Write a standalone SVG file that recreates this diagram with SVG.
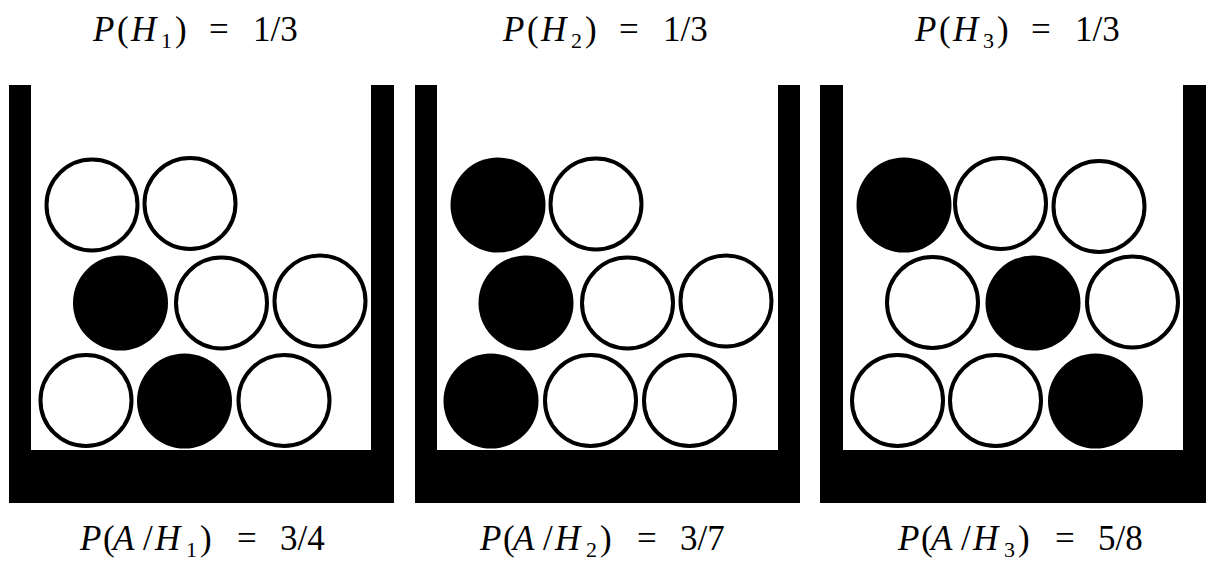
<svg xmlns="http://www.w3.org/2000/svg" width="1206" height="561" viewBox="0 0 1206 561">
  <style>
    .wall { fill: #000; }
    .w { fill: #fff; stroke: #000; stroke-width: 4; }
    .b { fill: #000; }
  </style>
  <rect x="0" y="0" width="1206" height="561" fill="#fff"/>

  <g id="labels-top">
    <text font-family="Liberation Serif" font-size="35" y="41"><tspan font-style="italic" x="93">P</tspan><tspan x="117">(</tspan><tspan font-style="italic" x="131">H</tspan><tspan font-size="22" x="161" y="48">1</tspan><tspan x="175" y="41">)</tspan><tspan x="209">=</tspan><tspan x="253">1/3</tspan></text>
    <text font-family="Liberation Serif" font-size="35" y="41"><tspan font-style="italic" x="503">P</tspan><tspan x="527">(</tspan><tspan font-style="italic" x="541">H</tspan><tspan font-size="22" x="571" y="48">2</tspan><tspan x="585" y="41">)</tspan><tspan x="619">=</tspan><tspan x="663">1/3</tspan></text>
    <text font-family="Liberation Serif" font-size="35" y="41"><tspan font-style="italic" x="915">P</tspan><tspan x="939">(</tspan><tspan font-style="italic" x="953">H</tspan><tspan font-size="22" x="983" y="48">3</tspan><tspan x="997" y="41">)</tspan><tspan x="1031">=</tspan><tspan x="1075">1/3</tspan></text>
  </g>

  <g id="urn1">
    <path class="wall" d="M9,85 H31 V450 H371 V85 H394 V503 H9 Z"/>
    <circle class="w" cx="92" cy="205" r="45.5"/>
    <circle class="w" cx="190" cy="203.5" r="45.5"/>
    <circle class="b" cx="120.5" cy="303" r="47.5"/>
    <circle class="w" cx="221.5" cy="303" r="45.5"/>
    <circle class="w" cx="320" cy="301" r="45.5"/>
    <circle class="w" cx="86" cy="400.5" r="45.5"/>
    <circle class="b" cx="184.5" cy="401" r="47.5"/>
    <circle class="w" cx="284" cy="400.5" r="45.5"/>
  </g>

  <g id="urn2">
    <path class="wall" d="M415,85 H437 V450 H778 V85 H800 V503 H415 Z"/>
    <circle class="b" cx="498" cy="205" r="47.5"/>
    <circle class="w" cx="596" cy="204" r="45.5"/>
    <circle class="b" cx="526" cy="303" r="47.5"/>
    <circle class="w" cx="627.5" cy="303" r="45.5"/>
    <circle class="w" cx="726" cy="301" r="45.5"/>
    <circle class="b" cx="491" cy="401" r="47.5"/>
    <circle class="w" cx="590.5" cy="400.5" r="45.5"/>
    <circle class="w" cx="689.5" cy="400.5" r="45.5"/>
  </g>

  <g id="urn3">
    <path class="wall" d="M820,85 H843 V450 H1183 V85 H1206 V503 H820 Z"/>
    <circle class="b" cx="904" cy="205" r="47.5"/>
    <circle class="w" cx="1000.5" cy="203.5" r="45.5"/>
    <circle class="w" cx="1099" cy="206.5" r="45.5"/>
    <circle class="w" cx="932.5" cy="302.5" r="45.5"/>
    <circle class="b" cx="1033" cy="303" r="47.5"/>
    <circle class="w" cx="1132.5" cy="302" r="45.5"/>
    <circle class="w" cx="897.5" cy="400.5" r="45.5"/>
    <circle class="w" cx="995.5" cy="400.5" r="45.5"/>
    <circle class="b" cx="1095.5" cy="401" r="47.5"/>
  </g>

  <g id="labels-bottom">
    <text font-family="Liberation Serif" font-size="35" y="550"><tspan font-style="italic" x="80">P</tspan><tspan x="103">(</tspan><tspan font-style="italic" x="113">A</tspan><tspan x="143">/</tspan><tspan font-style="italic" x="155">H</tspan><tspan font-size="22" x="186" y="557">1</tspan><tspan x="200" y="550">)</tspan><tspan x="237">=</tspan><tspan x="280">3/4</tspan></text>
    <text font-family="Liberation Serif" font-size="35" y="550"><tspan font-style="italic" x="480">P</tspan><tspan x="503">(</tspan><tspan font-style="italic" x="513">A</tspan><tspan x="543">/</tspan><tspan font-style="italic" x="555">H</tspan><tspan font-size="22" x="586" y="557">2</tspan><tspan x="600" y="550">)</tspan><tspan x="637">=</tspan><tspan x="680">3/7</tspan></text>
    <text font-family="Liberation Serif" font-size="35" y="550"><tspan font-style="italic" x="898">P</tspan><tspan x="921">(</tspan><tspan font-style="italic" x="931">A</tspan><tspan x="961">/</tspan><tspan font-style="italic" x="973">H</tspan><tspan font-size="22" x="1004" y="557">3</tspan><tspan x="1018" y="550">)</tspan><tspan x="1055">=</tspan><tspan x="1098">5/8</tspan></text>
  </g>

  <g id="connectors"></g>
</svg>
